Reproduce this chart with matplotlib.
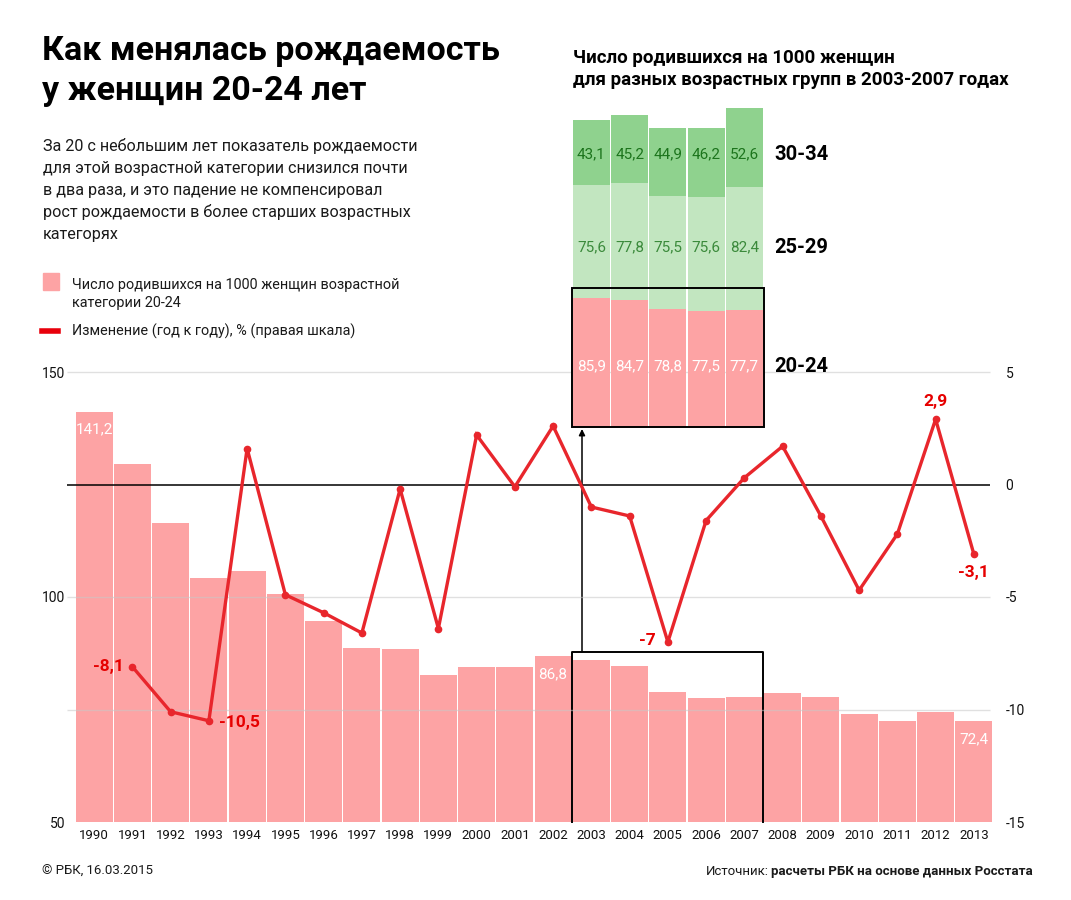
import matplotlib
matplotlib.use('Agg')
import matplotlib.pyplot as plt
from matplotlib.patches import Rectangle
from matplotlib.lines import Line2D
import numpy as np

plt.rcParams['font.family'] = ['Roboto', 'DejaVu Sans']

# ---------------- data ----------------
years = [str(y) for y in range(1990, 2014)]
births_20_24 = [141.2, 129.6, 116.4, 104.2, 105.8, 100.6, 94.7, 88.7, 88.4, 82.7,
                84.4, 84.4, 86.8, 85.9, 84.7, 78.8, 77.5, 77.7, 78.7, 77.8,
                74.1, 72.4, 74.5, 72.4]
change_years = years[1:]
change_pct = [-8.1, -10.1, -10.5, 1.6, -4.9, -5.7, -6.6, -0.2, -6.4, 2.2,
              -0.1, 2.6, -1.0, -1.4, -7.0, -1.6, 0.3, 1.7, -1.4, -4.7,
              -2.2, 2.9, -3.1]
bar_labels = {'1990': '141,2', '2002': '86,8', '2013': '72,4'}
change_labels = {'1991': '-8,1', '1993': '-10,5', '2005': '-7', '2012': '2,9', '2013': '-3,1'}

inset_years = ['2003', '2004', '2005', '2006', '2007']
inset_20_24 = [85.9, 84.7, 78.8, 77.5, 77.7]
inset_25_29 = [75.6, 77.8, 75.5, 75.6, 82.4]
inset_30_34 = [43.1, 45.2, 44.9, 46.2, 52.6]
inset_groups = ['20-24', '25-29', '30-34']

left_ticks = [50, 100, 150]
right_ticks = [-15, -10, -5, 0, 5]

# ---------------- style ----------------
PINK = '#fda3a4'
RED_LINE = '#e8262c'
RED_TXT = '#e60000'
GREEN_DARK = '#8fd28e'
GREEN_LIGHT = '#c2e6c0'
GREEN_TXT1 = '#1c741c'
GREEN_TXT2 = '#3b8a3b'

W, H = 1071, 900
fig = plt.figure(figsize=(W / 100, H / 100), dpi=100)
fig.patch.set_facecolor('white')

def fx(px):
    return px / W

def fy(py):
    return 1 - py / H

# ---------------- main axes ----------------
x0, x1, ybot, ytop = 75, 993, 822, 372
ax = fig.add_axes([fx(x0), fy(ybot), (x1 - x0) / W, (ybot - ytop) / H])
ax.set_xlim(-0.5, len(years) - 0.5)
ax.set_ylim(50, 150)
ax2 = ax.twinx()
ax2.set_ylim(-15, 5)
for a in (ax, ax2):
    for s in a.spines.values():
        s.set_visible(False)
    a.patch.set_visible(False)

xi = np.arange(len(years))
ax.bar(xi, births_20_24, width=0.965, color=PINK, edgecolor='none', zorder=2)

ax.set_xticks(xi)
ax.set_xticklabels(years, fontsize=9.5, color='#111111')
ax.tick_params(axis='x', length=0, pad=5)
ax.set_yticks(left_ticks)
ax.set_yticklabels([str(t) for t in left_ticks], fontsize=10, color='#111111')
ax.tick_params(axis='y', length=0, pad=7)
ax2.set_yticks(right_ticks)
ax2.set_yticklabels([str(t) for t in right_ticks], fontsize=10, color='#111111')
ax2.tick_params(axis='y', length=0, pad=9)

# gridlines (right scale)
gx0, gx1 = -0.71, len(years) - 0.58
for t in right_ticks:
    if t == -15:
        continue
    if t == 0:
        ax2.hlines(t, gx0, gx1, color='black', lw=1.1, zorder=3, clip_on=False)
    else:
        ax2.hlines(t, gx0, gx1, color='#c8c8c8', lw=1, alpha=0.55, zorder=1, clip_on=False)

# bar value labels
for i, y in enumerate(years):
    if y in bar_labels:
        ax.annotate(bar_labels[y], (i, births_20_24[i]), xytext=(0, -13),
                    textcoords='offset points', ha='center', va='center',
                    color='white', fontsize=11, zorder=5)

# change line
cx = [years.index(y) for y in change_years]
ax2.plot(cx, change_pct, color=RED_LINE, lw=2.4, marker='o', ms=4.5,
         solid_joinstyle='miter', zorder=6)

offsets = {'1991': (-6, 0, 'right', 'center'),
           '1993': (7, -1, 'left', 'center'),
           '2005': (-9, 1, 'right', 'center'),
           '2012': (0, 13, 'center', 'center'),
           '2013': (0, -13, 'center', 'center')}
for y, lab in change_labels.items():
    k = change_years.index(y)
    dx, dy, ha, va = offsets[y]
    ax2.annotate(lab, (cx[k], change_pct[k]), xytext=(dx, dy),
                 textcoords='offset points', ha=ha, va=va,
                 color=RED_TXT, fontsize=12.5, fontweight='bold', zorder=7)

# highlight box in main chart (2003-2007)
i0 = years.index(inset_years[0]) - 0.5
i1 = years.index(inset_years[-1]) + 0.5
box_top = 87.8
ax.plot([i0, i0, i1, i1], [50, box_top, box_top, 50], color='black', lw=1.4,
        zorder=4, clip_on=False)

# arrow to the inset
ax.annotate('', xy=(fx(582), fy(429)), xytext=(fx(582), fy(652)),
            xycoords='figure fraction', textcoords='figure fraction',
            arrowprops=dict(arrowstyle='-|>', lw=1.1, color='black',
                            mutation_scale=9, shrinkA=0, shrinkB=0))

# ---------------- inset ----------------
ib, it = 427, 100
axi = fig.add_axes([fx(x0 + (i0 + 0.5) * (x1 - x0) / len(years)), fy(ib),
                    5 * (x1 - x0) / len(years) / W, (ib - it) / H])
axi.set_xlim(-0.5, 4.5)
axi.set_ylim(0, (ib - it) / 1.5)
axi.axis('off')
ii = np.arange(len(inset_years))
b1 = np.array(inset_20_24)
b2 = np.array(inset_25_29)
b3 = np.array(inset_30_34)
axi.bar(ii, b1, width=0.965, color=PINK, edgecolor='none', zorder=2)
axi.bar(ii, b2, bottom=b1, width=0.965, color=GREEN_LIGHT, edgecolor='none', zorder=2)
axi.bar(ii, b3, bottom=b1 + b2, width=0.965, color=GREEN_DARK, edgecolor='none', zorder=2)

def fmt(v):
    return ('%.1f' % v).replace('.', ',')

rows = [(b1, np.zeros(5), 'white', '20-24'),
        (b2, b1, GREEN_TXT2, '25-29'),
        (b3, b1 + b2, GREEN_TXT1, '30-34')]
for vals, bots, col, grp in rows:
    yc = np.mean(bots + vals / 2)
    for i, v in enumerate(vals):
        axi.text(i, yc, fmt(v), ha='center', va='center', color=col,
                 fontsize=11, zorder=5)
    axi.text(4.78, yc, grp, ha='left', va='center', color='black',
             fontsize=14.5, fontweight='bold')

axi.add_patch(Rectangle((-0.5, 0), 5, 92.7, fill=False, edgecolor='black',
                        lw=1.4, zorder=6, clip_on=False))

# ---------------- texts ----------------
fig.text(fx(42), fy(60), 'Как менялась рождаемость', fontsize=24.5,
         fontweight='bold', va='baseline', ha='left', color='black')
fig.text(fx(42), fy(100), 'у женщин 20-24 лет', fontsize=24.5,
         fontweight='bold', va='baseline', ha='left', color='black')

desc = ['За 20 с небольшим лет показатель рождаемости',
        'для этой возрастной категории снизился почти',
        'в два раза, и это падение не компенсировал',
        'рост рождаемости в более старших возрастных',
        'категорях']
for k, line in enumerate(desc):
    fig.text(fx(43), fy(151 + 22 * k), line, fontsize=11.6, va='baseline',
             ha='left', color='#1a1a1a')

# legend
fig.patches.append(Rectangle((fx(43), fy(290)), 16 / W, 17 / H,
                             transform=fig.transFigure, color=PINK))
fig.text(fx(72), fy(289), 'Число родившихся на 1000 женщин возрастной',
         fontsize=10.4, va='baseline', color='#1a1a1a')
fig.text(fx(72), fy(307), 'категории 20-24', fontsize=10.4, va='baseline',
         color='#1a1a1a')
fig.lines.append(Line2D([fx(42), fx(58)], [fy(331), fy(331)], lw=4,
                        color='#e8000b', transform=fig.transFigure))
fig.text(fx(72), fy(336), 'Изменение (год к году), % (правая шкала)',
         fontsize=10.4, va='baseline', color='#1a1a1a')

# inset title
fig.text(fx(573), fy(63), 'Число родившихся на 1000 женщин', fontsize=13.5,
         fontweight='bold', va='baseline', color='black')
fig.text(fx(573), fy(85), 'для разных возрастных групп в 2003-2007 годах',
         fontsize=13.5, fontweight='bold', va='baseline', color='black')

# footer
fig.text(fx(42), fy(875), '© РБК, 16.03.2015', fontsize=9.5, va='baseline',
         color='#1a1a1a')
t_bold = fig.text(fx(1033), fy(875), 'расчеты РБК на основе данных Росстата',
                  fontsize=9.5, fontweight='bold', va='baseline', ha='right',
                  color='#1a1a1a')
fig.canvas.draw()
bb = t_bold.get_window_extent()
fig.text(bb.x0 / W - 2 / W, fy(875), 'Источник:', fontsize=9.5, va='baseline',
         ha='right', color='#1a1a1a')

fig.savefig('out.png', dpi=100, facecolor='white')
